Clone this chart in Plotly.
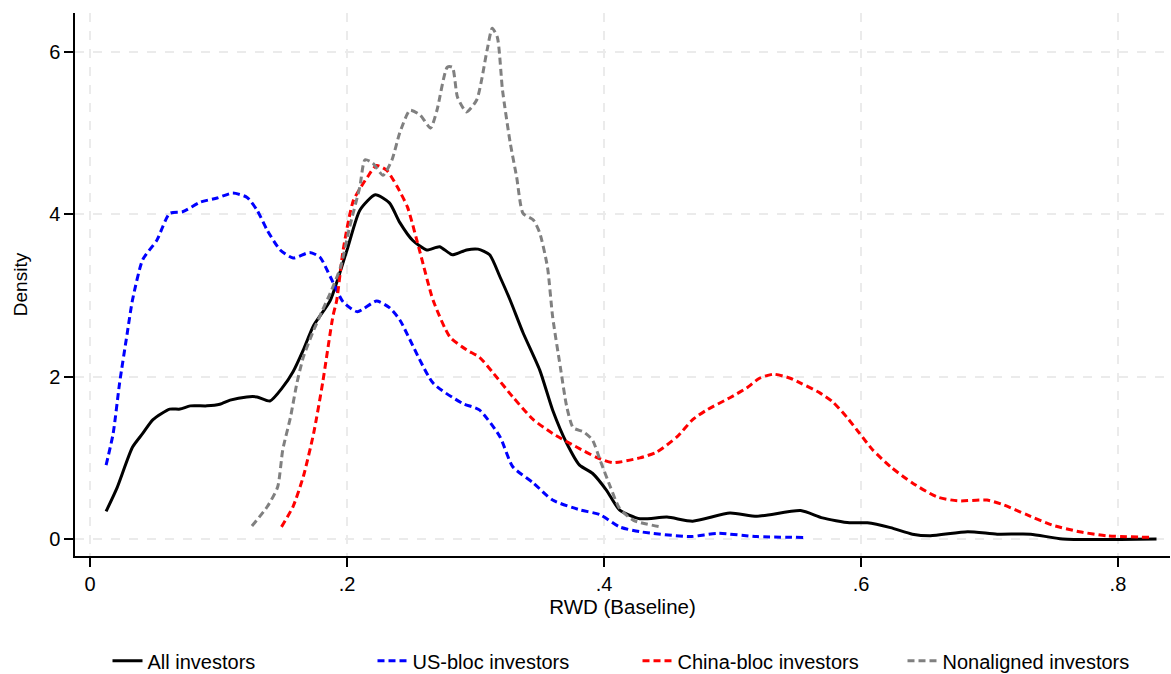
import plotly.graph_objects as go

# All investors
all_x = [0.0125, 0.021, 0.033, 0.041, 0.049, 0.062, 0.070, 0.078, 0.091, 0.101, 0.109, 0.122, 0.130, 0.140,
         0.150, 0.158, 0.166, 0.174, 0.187, 0.200, 0.210, 0.222, 0.233, 0.241, 0.251, 0.262, 0.272, 0.282,
         0.293, 0.302, 0.311, 0.319, 0.327, 0.337, 0.350, 0.360, 0.371, 0.381, 0.391, 0.402, 0.412, 0.428,
         0.449, 0.469, 0.498, 0.519, 0.553, 0.570, 0.591, 0.605, 0.623, 0.640, 0.654, 0.683, 0.706, 0.732,
         0.757, 0.830]
all_y = [0.34, 0.63, 1.13, 1.30, 1.47, 1.60, 1.60, 1.64, 1.64, 1.66, 1.71, 1.75, 1.75, 1.70,
         1.87, 2.06, 2.33, 2.63, 2.94, 3.56, 4.05, 4.24, 4.14, 3.90, 3.68, 3.56, 3.60, 3.50,
         3.56, 3.57, 3.50, 3.23, 2.94, 2.54, 2.08, 1.59, 1.18, 0.91, 0.81, 0.60, 0.36, 0.25,
         0.27, 0.22, 0.32, 0.28, 0.35, 0.26, 0.20, 0.20, 0.14, 0.06, 0.04, 0.09, 0.06, 0.06,
         0.00, 0.00]

# US-bloc investors
us_x = [0.0125, 0.018, 0.023, 0.029, 0.033, 0.041, 0.052, 0.062, 0.072, 0.086, 0.099, 0.111, 0.122, 0.130,
        0.138, 0.148, 0.158, 0.171, 0.179, 0.187, 0.197, 0.208, 0.223, 0.233, 0.241, 0.267, 0.290, 0.303,
        0.319, 0.329, 0.345, 0.360, 0.381, 0.397, 0.412, 0.428, 0.467, 0.488, 0.519, 0.555]
us_y = [0.91, 1.30, 1.92, 2.54, 2.94, 3.44, 3.68, 4.01, 4.03, 4.15, 4.20, 4.26, 4.21, 4.05,
        3.80, 3.56, 3.46, 3.53, 3.47, 3.23, 2.92, 2.80, 2.93, 2.85, 2.70, 1.92, 1.67, 1.59,
        1.26, 0.89, 0.69, 0.48, 0.36, 0.30, 0.15, 0.09, 0.03, 0.07, 0.03, 0.02]

# China-bloc investors
cn_x = [0.149, 0.158, 0.166, 0.174, 0.181, 0.189, 0.192, 0.197, 0.205, 0.216, 0.223, 0.231, 0.239, 0.247,
        0.257, 0.267, 0.280, 0.293, 0.303, 0.314, 0.329, 0.345, 0.360, 0.379, 0.395, 0.407, 0.428, 0.441,
        0.457, 0.469, 0.480, 0.498, 0.511, 0.521, 0.532, 0.545, 0.553, 0.568, 0.578, 0.589, 0.599, 0.609,
        0.623, 0.640, 0.659, 0.675, 0.698, 0.711, 0.729, 0.749, 0.770, 0.791, 0.827]
cn_y = [0.15, 0.40, 0.77, 1.30, 1.92, 2.74, 2.94, 3.56, 4.17, 4.46, 4.60, 4.54, 4.34, 4.09,
        3.52, 2.94, 2.49, 2.33, 2.24, 2.04, 1.75, 1.47, 1.30, 1.13, 1.00, 0.94, 1.00, 1.07,
        1.26, 1.47, 1.59, 1.74, 1.86, 1.98, 2.03, 1.98, 1.92, 1.80, 1.69, 1.50, 1.30, 1.10,
        0.89, 0.69, 0.52, 0.47, 0.48, 0.42, 0.30, 0.17, 0.09, 0.04, 0.02]

# Nonaligned investors
na_x = [0.126, 0.138, 0.146, 0.150, 0.156, 0.161, 0.166, 0.174, 0.181, 0.187, 0.195, 0.202, 0.210, 0.214,
        0.220, 0.228, 0.235, 0.241, 0.249, 0.257, 0.265, 0.270, 0.278, 0.282, 0.286, 0.293, 0.301, 0.309,
        0.313, 0.317, 0.321, 0.327, 0.332, 0.337, 0.345, 0.350, 0.356, 0.360, 0.366, 0.371, 0.376, 0.384,
        0.391, 0.397, 0.405, 0.412, 0.423, 0.444]
na_y = [0.16, 0.40, 0.64, 1.10, 1.50, 1.92, 2.24, 2.57, 2.82, 3.03, 3.35, 3.84, 4.34, 4.67,
        4.63, 4.48, 4.67, 5.00, 5.28, 5.22, 5.06, 5.28, 5.81, 5.81, 5.44, 5.26, 5.41, 6.02,
        6.29, 6.18, 5.53, 4.88, 4.46, 4.01, 3.93, 3.77, 3.35, 2.74, 2.12, 1.63, 1.37, 1.32,
        1.22, 0.97, 0.64, 0.38, 0.23, 0.15]

x_ticks = [0, 0.2, 0.4, 0.6, 0.8]
x_tick_labels = ["0", ".2", ".4", ".6", ".8"]
y_ticks = [0, 2, 4, 6]
y_tick_labels = ["0", "2", "4", "6"]

FONT = "Liberation Sans, Arial, Helvetica, sans-serif"
dash = "7px,4px"

fig = go.Figure()
fig.add_trace(go.Scatter(x=all_x, y=all_y, mode="lines", name="All investors",
                         line=dict(color="black", width=3, shape="spline", smoothing=0.6)))
fig.add_trace(go.Scatter(x=us_x, y=us_y, mode="lines", name="US-bloc investors",
                         line=dict(color="#0000ff", width=3, dash=dash, shape="spline", smoothing=0.6)))
fig.add_trace(go.Scatter(x=cn_x, y=cn_y, mode="lines", name="China-bloc investors",
                         line=dict(color="#ff0000", width=3, dash=dash, shape="spline", smoothing=0.6)))
fig.add_trace(go.Scatter(x=na_x, y=na_y, mode="lines", name="Nonaligned investors",
                         line=dict(color="#808080", width=3, dash=dash, shape="spline", smoothing=0.6)))

fig.update_layout(
    width=1171, height=674,
    margin=dict(l=75, r=1, t=13, b=118, autoexpand=False),
    paper_bgcolor="white", plot_bgcolor="white",
    font=dict(family=FONT, size=20, color="black"),
    showlegend=True,
    legend=dict(orientation="h", x=0.5137, xanchor="center", y=-0.193, yanchor="middle",
                font=dict(size=20), traceorder="normal", entrywidth=220),
)
fig.update_xaxes(
    range=[-0.0117, 0.8405], tickvals=x_ticks, ticktext=x_tick_labels, automargin=False,
    showline=True, linecolor="black", linewidth=1.5, ticks="outside", ticklen=9,
    tickcolor="black", tickwidth=1.5, showgrid=True, gridcolor="#ebebeb", gridwidth=1.5,
    griddash="dash", zeroline=False, tickfont=dict(size=20),
    title=dict(text="RWD (Baseline)", font=dict(size=20.5), standoff=6),
)
fig.update_yaxes(
    range=[-0.209, 6.478], tickvals=y_ticks, ticktext=y_tick_labels, automargin=False,
    showline=True, linecolor="black", linewidth=1.5, ticks="outside", ticklen=9,
    tickcolor="black", tickwidth=1.5, showgrid=True, gridcolor="#ebebeb", gridwidth=1.5,
    griddash="dash", zeroline=False, tickfont=dict(size=20),
    title=dict(text="Density", font=dict(size=19), standoff=16),
)

fig.write_html("out.html", config={"displayModeBar": False},
               post_script="document.body.style.margin='0';")
